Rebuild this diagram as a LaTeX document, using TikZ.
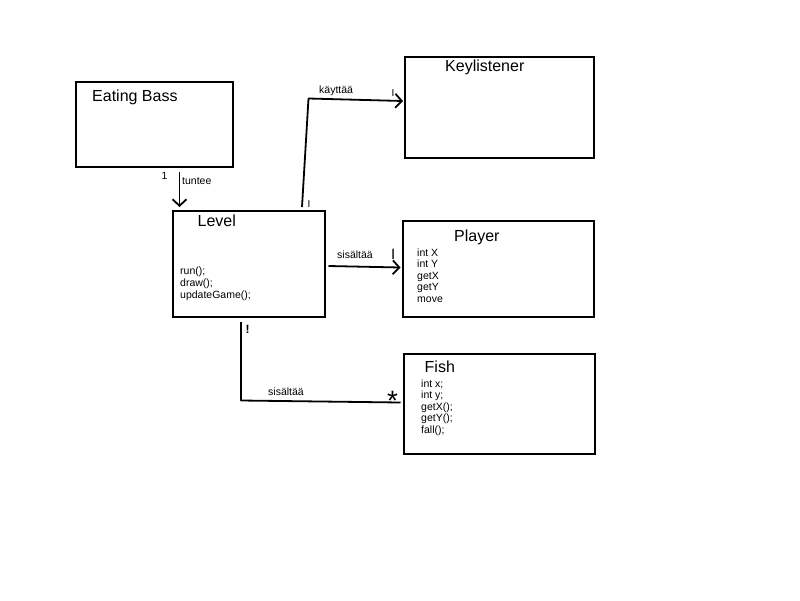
\documentclass[tikz,border=0pt]{standalone}
\usepackage{fontspec}
\setmainfont{Liberation Sans}
\usetikzlibrary{arrows.meta}

\tikzset{
  classbox/.style={draw=black, line width=2pt, rectangle, inner sep=0pt, anchor=north west},
  title/.style={anchor=base west, inner sep=0pt, font=\fontsize{16}{19}\selectfont},
  member/.style={anchor=base west, inner sep=0pt, font=\fontsize{10.5}{12}\selectfont},
  tag/.style={anchor=base west, inner sep=0pt, font=\fontsize{10.5}{12}\selectfont},
  link/.style={draw=black, line width=1.8pt, line join=round},
  arrowlink/.style={link, -{Straight Barb[length=6.5pt, width=14pt, line width=1.8pt]}},
}

\begin{document}
\begin{tikzpicture}[x=1pt, y=-1pt]
  \useasboundingbox[fill=white] (0,0) rectangle (800,600);

  % class boxes
  \node[classbox, minimum width=157pt, minimum height=85pt] (bass) at (75,81) {};
  \node[classbox, minimum width=188.5pt, minimum height=101.5pt] (key) at (404,55.5) {};
  \node[classbox, minimum width=152pt, minimum height=106.5pt] (level) at (171.5,209.5) {};
  \node[classbox, minimum width=190.5pt, minimum height=95.5pt] (player) at (402,220) {};
  \node[classbox, minimum width=191pt, minimum height=99.5pt] (fish) at (403,353) {};

  % class names
  \node[title] (bassname) at (92,101.5) {Eating Bass};
  \node[title] (keyname) at (445,71.5) {Keylistener};
  \node[title] (levelname) at (197.5,226) {Level};
  \node[title] (playername) at (454,241) {Player};
  \node[title] (fishname) at (424.5,372.5) {Fish};

  % members
  \foreach \t [count=\i] in {run();, draw();, updateGame();}
    \node[member] (levelm\i) at (180,{274+12*(\i-1)}) {\t};
  \foreach \t [count=\i] in {int X, int Y, getX, getY, move}
    \node[member] (playerm\i) at (417,{256+11.6*(\i-1)}) {\t};
  \foreach \t [count=\i] in {int x;, int y;, getX();, getY();, fall();}
    \node[member] (fishm\i) at (421,{387+11.6*(\i-1)}) {\t};

  % Eating Bass knows Level
  \draw[arrowlink] ([shift={(104.5,4)}]bass.south west) -- ([shift={(8,-2.5)}]level.north west);
  \node[tag] (one) at (161.5,179) {1};
  \node[tag] (tuntee) at (182,184.5) {tuntee};

  % Level uses Keylistener
  \coordinate (kbend) at (308.5,98.5);
  \draw[arrowlink] ([shift={(130.5,-2.5)}]level.north west) -- (kbend) -- ([shift={(-1,45.5)}]key.north west);
  \node[tag] (kayttaa) at (319,93) {käyttää};
  \node[tag, font=\fontsize{10}{12}\selectfont] (ikey) at (391.5,96) {I};
  \node[tag, font=\fontsize{10}{12}\selectfont] (ilevel) at (307.5,207) {I};

  % Level contains Player
  \draw[arrowlink] ([shift={(3,56.5)}]level.north east) -- ([shift={(-1.5,47.5)}]player.north west);
  \node[tag] (sisaltaa1) at (337,258) {sisältää};
  \node[tag, font=\fontsize{15}{18}\selectfont] (iplayer) at (391,259) {I};

  % Level contains Fish
  \coordinate (fbend) at (241,400.5);
  \draw[link] ([shift={(69.5,4)}]level.south west) -- (fbend) -- ([shift={(-2.5,49.5)}]fish.north west);
  \node[tag] (sisaltaa2) at (268,395) {sisältää};
  \node[tag, font=\bfseries\fontsize{12}{14}\selectfont] (excl) at (245.5,333) {!};
  \node[anchor=base, inner sep=0pt, font=\fontsize{28}{30}\selectfont] (star) at (392.5,410) {*};
\end{tikzpicture}
\end{document}
